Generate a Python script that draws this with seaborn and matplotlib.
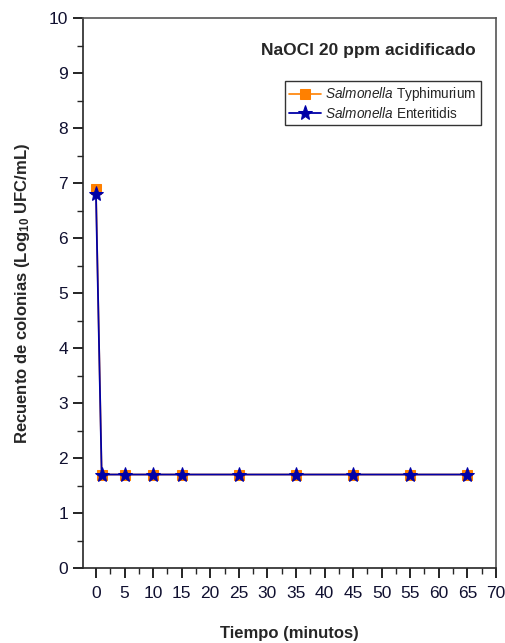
import matplotlib
import pandas as pd
import seaborn as sns
import matplotlib.pyplot as plt
import matplotlib.ticker as ticker

matplotlib.use("Agg")
sns.set_style("ticks")
plt.rcParams["font.family"] = ["Liberation Sans", "DejaVu Sans"]
plt.rcParams["mathtext.fontset"] = "custom"
plt.rcParams["mathtext.it"] = "Liberation Sans:italic"
plt.rcParams["mathtext.rm"] = "Liberation Sans"
plt.rcParams["mathtext.bf"] = "Liberation Sans:bold"

tiempo = [0, 1, 5, 10, 15, 25, 35, 45, 55, 65]
typhimurium = [6.9, 1.7, 1.7, 1.7, 1.7, 1.7, 1.7, 1.7, 1.7, 1.7]
enteritidis = [6.8, 1.7, 1.7, 1.7, 1.7, 1.7, 1.7, 1.7, 1.7, 1.7]
x_ticks = list(range(0, 75, 5))
y_ticks = list(range(0, 11))

df = pd.DataFrame({"t": tiempo, "typ": typhimurium, "ent": enteritidis})

fig = plt.figure(figsize=(5.05, 6.43), dpi=100)
ax = fig.add_axes([0.164, 0.1166, 0.818, 0.8554])

sns.lineplot(df, x="t", y="typ", ax=ax, color="#ff8000", marker="s",
             markersize=7, markeredgecolor="#ff8000", linewidth=1.2,
             label=r"$\it{Salmonella}$ Typhimurium")
sns.lineplot(df, x="t", y="ent", ax=ax, color="#0000a8", marker="*",
             markersize=11, markeredgecolor="#0000a8", linewidth=1.3,
             label=r"$\it{Salmonella}$ Enteritidis")

ax.set_xlim(-2.3, 70)
ax.set_ylim(0, 10)
ax.set_xticks(x_ticks)
ax.set_yticks(y_ticks)
ax.xaxis.set_minor_locator(ticker.MultipleLocator(2.5))
ax.yaxis.set_minor_locator(ticker.MultipleLocator(0.5))
ax.tick_params(which="major", direction="out", length=7, width=1.2,
               labelsize=12.5, colors="black", labelcolor="#101030")
ax.tick_params(which="minor", direction="out", length=4, width=1.0)
ax.tick_params(axis="x", pad=6)
for s in ax.spines.values():
    s.set_linewidth(1.2)
    s.set_visible(True)
ax.spines["top"].set_color("#555555")
ax.spines["right"].set_color("#555555")

ax.set_xlabel("Tiempo (minutos)", fontsize=12, fontweight="bold", labelpad=18)
ax.set_ylabel(r"Recuento de colonias (Log$_{\mathbf{10}}$ UFC/mL)", fontsize=12,
              fontweight="bold", labelpad=12)

ax.text(0.95, 0.955, "NaOCl 20 ppm acidificado", transform=ax.transAxes,
        ha="right", va="top", fontsize=12.5, fontweight="bold")

leg = ax.legend(loc="upper right", bbox_to_anchor=(0.963, 0.885), fontsize=9.8,
                frameon=True, fancybox=False, edgecolor="black",
                handlelength=2.4, handletextpad=0.3, borderpad=0.3,
                labelspacing=0.2, borderaxespad=0)
leg.get_frame().set_linewidth(1.0)

fig.savefig("out.png", dpi=100)
plt.clf()
